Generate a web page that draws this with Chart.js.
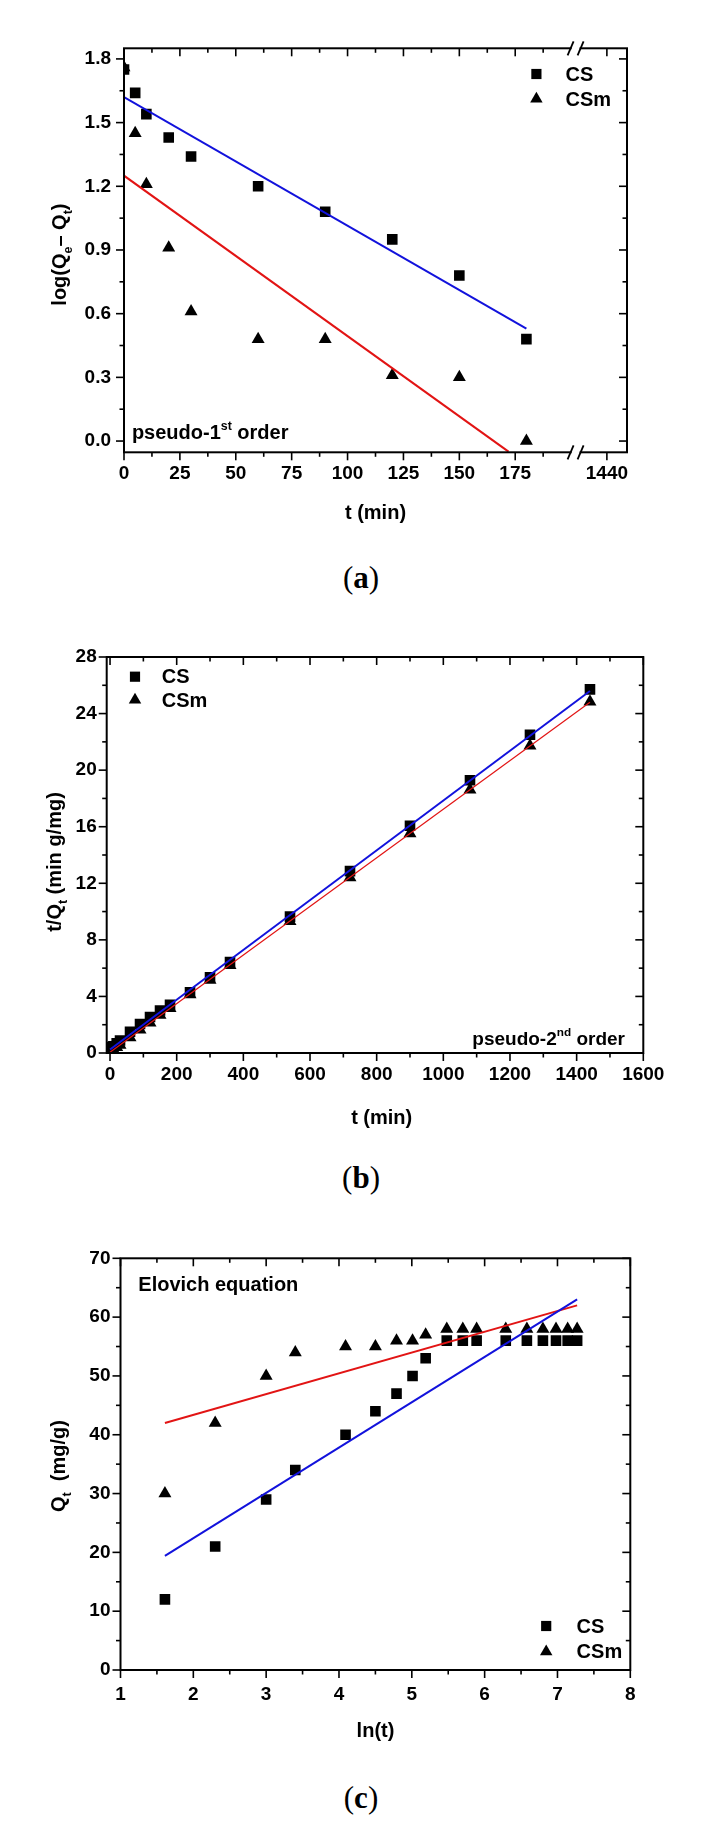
<!DOCTYPE html>
<html>
<head>
<meta charset="utf-8">
<title>Adsorption kinetics</title>
<script src="https://cdn.jsdelivr.net/npm/chart.js@4.4.1/dist/chart.umd.min.js"></script>
<style>
  html, body { margin:0; padding:0; background:#fff; }
  body { width:701px; height:1833px; position:relative; overflow:hidden; }
  canvas { position:absolute; left:0; display:block; }
  .cap { position:absolute; font-family:"Liberation Serif","Times New Roman",serif; font-size:31px; line-height:1; transform:translate(-50%,-50%); white-space:nowrap; color:#000; }
</style>
</head>
<body>
<canvas id="cA" width="701" height="545" style="top:0px"></canvas>
<canvas id="cB" width="701" height="545" style="top:600px"></canvas>
<canvas id="cC" width="701" height="560" style="top:1200px"></canvas>
<div class="cap" style="left:361px;top:577px">(<b>a</b>)</div>
<div class="cap" style="left:361px;top:1177px">(<b>b</b>)</div>
<div class="cap" style="left:361px;top:1797px">(<b>c</b>)</div>
<script>
// ================= DATA =================
// (a) pseudo-1st order : log(Qe - Qt) vs t (min)
const tA       = [0, 5, 10, 20, 30, 60, 90, 120, 150, 180];
const logCS_A  = [1.75, 1.64, 1.54, 1.43, 1.34, 1.20, 1.08, 0.95, 0.78, 0.48];
const logCSm_A = [1.76, 1.45, 1.21, 0.91, 0.61, 0.48, 0.48, 0.31, 0.30, 0.00];
const fitCS_A_x  = [0, 180];
const fitCS_A_y  = [1.62, 0.53];
const fitCSm_A_x = [0, 172];
const fitCSm_A_y = [1.25, -0.05];
const xTicksA      = [0, 25, 50, 75, 100, 125, 150, 175, 216];
const xTickLabelsA = ['0', '25', '50', '75', '100', '125', '150', '175', '1440'];
const xMinorA      = [12.5, 37.5, 62.5, 87.5, 112.5, 137.5, 162.5, 187.5];
const yTicksA      = [0, 0.3, 0.6, 0.9, 1.2, 1.5, 1.8];
const yTickLabelsA = ['0.0', '0.3', '0.6', '0.9', '1.2', '1.5', '1.8'];
const yMinorA      = [0.15, 0.45, 0.75, 1.05, 1.35, 1.65];

// (b) pseudo-2nd order : t/Qt vs t (min)
const tB     = [5, 10, 20, 30, 60, 90, 120, 150, 180, 240, 300, 360, 540, 720, 900, 1080, 1260, 1440];
const tQ_CS  = [0.42, 0.48, 0.69, 0.88, 1.50, 2.05, 2.55, 3.00, 3.40, 4.29, 5.36, 6.43, 9.64, 12.86, 16.07, 19.29, 22.50, 25.71];
const tQ_CSm = [0.17, 0.24, 0.40, 0.56, 1.09, 1.64, 2.14, 2.68, 3.16, 4.14, 5.17, 6.21, 9.31, 12.41, 15.52, 18.62, 21.72, 24.83];
const fitCS_B_x  = [0, 1440];
const fitCS_B_y  = [0.25, 25.6];
const fitCSm_B_x = [0, 1440];
const fitCSm_B_y = [0.05, 24.8];
const xTicksB      = [0, 200, 400, 600, 800, 1000, 1200, 1400, 1600];
const xTickLabelsB = ['0', '200', '400', '600', '800', '1000', '1200', '1400', '1600'];
const xMinorB      = [100, 300, 500, 700, 900, 1100, 1300, 1500];
const yTicksB      = [0, 4, 8, 12, 16, 20, 24, 28];
const yTickLabelsB = ['0', '4', '8', '12', '16', '20', '24', '28'];
const yMinorB      = [2, 6, 10, 14, 18, 22, 26];

// (c) Elovich equation : Qt vs ln(t)
const lnT    = [1.61, 2.30, 3.00, 3.40, 4.09, 4.50, 4.79, 5.01, 5.19, 5.48, 5.70, 5.89, 6.29, 6.58, 6.80, 6.98, 7.14, 7.27];
const QtCS   = [12, 21, 29, 34, 40, 44, 47, 50, 53, 56, 56, 56, 56, 56, 56, 56, 56, 56];
const QtCSm  = [30, 42, 50, 54, 55, 55, 56, 56, 57, 58, 58, 58, 58, 58, 58, 58, 58, 58];
const fitCS_C_x  = [1.61, 7.27];
const fitCS_C_y  = [19.4, 63.0];
const fitCSm_C_x = [1.61, 7.27];
const fitCSm_C_y = [42.0, 62.0];
const xTicksC      = [1, 2, 3, 4, 5, 6, 7, 8];
const xTickLabelsC = ['1', '2', '3', '4', '5', '6', '7', '8'];
const xMinorC      = [1.5, 2.5, 3.5, 4.5, 5.5, 6.5, 7.5];
const yTicksC      = [0, 10, 20, 30, 40, 50, 60, 70];
const yTickLabelsC = ['0', '10', '20', '30', '40', '50', '60', '70'];
const yMinorC      = [5, 15, 25, 35, 45, 55, 65];

const seriesNames = ['CS', 'CSm'];

// ================= HELPERS =================
const FONT = '"Liberation Sans", Arial, Helvetica, sans-serif';
const BLUE = '#1212dc';
const RED  = '#e21414';

function pts(xs, ys) { return xs.map((x, i) => ({ x: x, y: ys[i] })); }
function seg(t, s) { return { t: t, s: s }; }

function richWidth(ctx, segs, size) {
  let w = 0;
  for (const g of segs) {
    ctx.font = 'bold ' + (g.s ? size * 0.62 : size) + 'px ' + FONT;
    w += ctx.measureText(g.t).width;
  }
  return w;
}
function drawRich(ctx, segs, x, y, size, align) {
  const w = richWidth(ctx, segs, size);
  let cx = align === 'center' ? x - w / 2 : (align === 'right' ? x - w : x);
  ctx.textAlign = 'left';
  ctx.textBaseline = 'alphabetic';
  for (const g of segs) {
    const sz = g.s ? size * 0.62 : size;
    ctx.font = 'bold ' + sz + 'px ' + FONT;
    const dy = g.s === 'sub' ? size * 0.28 : (g.s === 'sup' ? -size * 0.45 : 0);
    ctx.fillText(g.t, cx, y + dy);
    cx += ctx.measureText(g.t).width;
  }
}

function pointSet(label, xs, ys, style) {
  return {
    label: label, data: pts(xs, ys), showLine: false,
    pointStyle: style, pointRadius: 7.5, pointHoverRadius: 7.5,
    pointBackgroundColor: '#000', pointBorderColor: '#000', pointBorderWidth: 0
  };
}
function lineSet(xs, ys, color, width) {
  return {
    label: 'fit', data: pts(xs, ys), showLine: true, borderColor: color,
    borderWidth: width, pointRadius: 0, pointHoverRadius: 0, fill: false
  };
}

function decor(cfg) {
  return {
    id: 'decor_' + cfg.id,
    afterDatasetsDraw(chart) {
      const ctx = chart.ctx, a = chart.chartArea;
      const xs = chart.scales.x, ys = chart.scales.y;
      const off = cfg.top;
      ctx.save();
      ctx.fillStyle = '#000';
      ctx.strokeStyle = '#000';
      const line = (x1, y1, x2, y2) => { ctx.beginPath(); ctx.moveTo(x1, y1); ctx.lineTo(x2, y2); ctx.stroke(); };
      // ticks
      ctx.lineWidth = 1.6;
      const xt = cfg.x.ticks.map(v => [v, 8]).concat(cfg.x.minor.map(v => [v, 4.5]));
      for (const [v, len] of xt) {
        const px = xs.getPixelForValue(v);
        line(px, a.bottom, px, a.bottom + len);
        line(px, a.top, px, a.top + len);
      }
      const yt = cfg.y.ticks.map(v => [v, 8]).concat(cfg.y.minor.map(v => [v, 4.5]));
      for (const [v, len] of yt) {
        const py = ys.getPixelForValue(v);
        line(a.left - len, py, a.left, py);
        line(a.right - len, py, a.right, py);
      }
      // frame
      ctx.lineWidth = 2;
      ctx.strokeRect(a.left, a.top, a.right - a.left, a.bottom - a.top);
      // axis break
      if (cfg.brk !== undefined) {
        const px = xs.getPixelForValue(cfg.brk);
        for (const yy of [a.top, a.bottom]) {
          ctx.fillStyle = '#fff';
          ctx.fillRect(px - 4, yy - 2, 8, 4);
          ctx.lineWidth = 1.8;
          line(px - 8, yy + 7, px - 2, yy - 7);
          line(px + 2, yy + 7, px + 8, yy - 7);
        }
        ctx.fillStyle = '#000';
      }
      // legend
      const L = cfg.legend;
      const styles = ['rect', 'triangle'];
      for (let i = 0; i < seriesNames.length; i++) {
        const yy = L.ys[i] - off;
        Chart.helpers.drawPoint(ctx, { pointStyle: styles[i], radius: 7.2, rotation: 0, borderWidth: 0 }, L.x, yy);
        ctx.font = 'bold 20px ' + FONT;
        ctx.textAlign = 'left';
        ctx.textBaseline = 'middle';
        ctx.fillText(seriesNames[i], L.tx, yy + 1);
      }
      // titles
      const xtz = 20;
      drawRich(ctx, cfg.xTitle.segs, cfg.xTitle.x, cfg.xTitle.y - off + xtz * 0.36, xtz, 'center');
      ctx.save();
      ctx.translate(cfg.yTitle.x, cfg.yTitle.y - off);
      ctx.rotate(-Math.PI / 2);
      drawRich(ctx, cfg.yTitle.segs, 0, xtz * 0.36, xtz, 'center');
      ctx.restore();
      // notes
      for (const n of cfg.notes) drawRich(ctx, n.segs, n.x, n.y - off, n.size, 'left');
      ctx.restore();
    }
  };
}

function makeChart(cfg) {
  const canvas = document.getElementById(cfg.id);
  const XH = 40;
  const b = cfg.box;
  const tickFont = { family: FONT, size: 19, weight: 'bold' };
  new Chart(canvas, {
    type: 'scatter',
    data: { datasets: cfg.datasets },
    options: {
      responsive: false, animation: false, devicePixelRatio: 1,
      events: [],
      layout: { padding: { left: 0, top: b.T - cfg.top, right: 701 - b.R, bottom: cfg.top + cfg.height - b.B - XH } },
      plugins: { legend: { display: false }, tooltip: { enabled: false } },
      scales: {
        x: {
          type: 'linear', min: cfg.x.min, max: cfg.x.max,
          afterFit: s => { s.height = XH; },
          afterBuildTicks: s => { s.ticks = cfg.x.ticks.map(v => ({ value: v })); },
          ticks: { autoSkip: false, maxRotation: 0, minRotation: 0, padding: cfg.x.pad, color: '#000', font: tickFont,
                   callback: (v, i) => cfg.x.labels[i] },
          grid: { display: false, drawTicks: false },
          border: { display: false }
        },
        y: {
          type: 'linear', min: cfg.y.min, max: cfg.y.max,
          afterFit: s => { s.width = b.L; },
          afterBuildTicks: s => { s.ticks = cfg.y.ticks.map(v => ({ value: v })); },
          ticks: { autoSkip: false, padding: cfg.y.pad, color: '#000', font: tickFont,
                   callback: (v, i) => cfg.y.labels[i] },
          grid: { display: false, drawTicks: false },
          border: { display: false }
        }
      }
    },
    plugins: [decor(cfg)]
  });
}

// ================= CHARTS =================
makeChart({
  id: 'cA', top: 0, height: 545,
  box: { L: 124, R: 627, T: 48.3, B: 452.3 },
  x: { min: 0, max: 225, ticks: xTicksA, labels: xTickLabelsA, minor: xMinorA, pad: 10 },
  y: { min: -0.053, max: 1.85, ticks: yTicksA, labels: yTickLabelsA, minor: yMinorA, pad: 13 },
  datasets: [
    lineSet(fitCS_A_x, fitCS_A_y, BLUE, 2),
    lineSet(fitCSm_A_x, fitCSm_A_y, RED, 2),
    pointSet(seriesNames[0], tA, logCS_A, 'rect'),
    pointSet(seriesNames[1], tA, logCSm_A, 'triangle')
  ],
  legend: { x: 536.4, tx: 565.5, ys: [74, 99] },
  xTitle: { x: 375.5, y: 511.7, segs: [seg('t (min)')] },
  yTitle: { x: 59, y: 254.6, segs: [seg('log(Q'), seg('e', 'sub'), seg('\u2013 Q'), seg('t', 'sub'), seg(')')] },
  notes: [{ x: 131.9, y: 439, size: 20, segs: [seg('pseudo-1'), seg('st', 'sup'), seg(' order')] }],
  brk: 202
});

makeChart({
  id: 'cB', top: 600, height: 545,
  box: { L: 106.7, R: 643.3, T: 657, B: 1053 },
  x: { min: -10, max: 1600, ticks: xTicksB, labels: xTickLabelsB, minor: xMinorB, pad: 10 },
  y: { min: 0, max: 28, ticks: yTicksB, labels: yTickLabelsB, minor: yMinorB, pad: 10 },
  datasets: [
    lineSet(fitCS_B_x, fitCS_B_y, BLUE, 2),
    lineSet(fitCSm_B_x, fitCSm_B_y, RED, 1.2),
    pointSet(seriesNames[0], tB, tQ_CS, 'rect'),
    pointSet(seriesNames[1], tB, tQ_CSm, 'triangle')
  ],
  legend: { x: 135, tx: 161.7, ys: [676.7, 700] },
  xTitle: { x: 381.7, y: 1116.7, segs: [seg('t (min)')] },
  yTitle: { x: 54, y: 862, segs: [seg('t/Q'), seg('t', 'sub'), seg(' (min g/mg)')] },
  notes: [{ x: 472.3, y: 1045, size: 19, segs: [seg('pseudo-2'), seg('nd', 'sup'), seg(' order')] }]
});

makeChart({
  id: 'cC', top: 1200, height: 560,
  box: { L: 120.5, R: 630.3, T: 1258.3, B: 1670 },
  x: { min: 1, max: 8, ticks: xTicksC, labels: xTickLabelsC, minor: xMinorC, pad: 13 },
  y: { min: 0, max: 70, ticks: yTicksC, labels: yTickLabelsC, minor: yMinorC, pad: 10 },
  datasets: [
    lineSet(fitCS_C_x, fitCS_C_y, BLUE, 2),
    lineSet(fitCSm_C_x, fitCSm_C_y, RED, 2),
    pointSet(seriesNames[0], lnT, QtCS, 'rect'),
    pointSet(seriesNames[1], lnT, QtCSm, 'triangle')
  ],
  legend: { x: 546.2, tx: 576.6, ys: [1626, 1651.7] },
  xTitle: { x: 375.5, y: 1730, segs: [seg('ln(t)')] },
  yTitle: { x: 58, y: 1466, segs: [seg('Q'), seg('t', 'sub'), seg('  (mg/g)')] },
  notes: [{ x: 138.3, y: 1290.5, size: 20, segs: [seg('Elovich equation')] }]
});
</script>
</body>
</html>
